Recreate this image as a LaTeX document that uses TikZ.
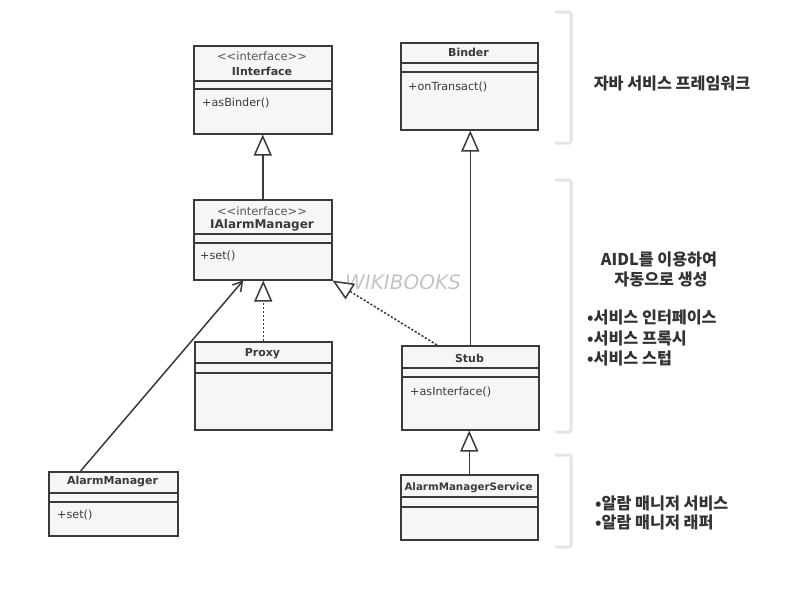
\documentclass[tikz,border=0pt]{standalone}
\usepackage{fontspec}
\setmainfont{DejaVu Sans}
\newfontfamily\kr{Noto Sans CJK KR}
\usetikzlibrary{arrows.meta,calc}
\definecolor{uml}{HTML}{3A3A3A}
\definecolor{boxfill}{HTML}{F6F6F6}
\definecolor{brkcol}{HTML}{E4E4E4}
\definecolor{krtext}{HTML}{333333}
\definecolor{wm}{HTML}{C4C4C4}
\tikzset{
  cls/.style={draw=uml, line width=1.5pt, fill=boxfill, inner sep=0pt, anchor=north west},
  ttl/.style={font=\fontsize{11}{13}\selectfont\bfseries, text=uml, inner sep=0pt},
  ster/.style={font=\fontsize{11.5}{13}\selectfont, text=uml!85, inner sep=0pt},
  op/.style={font=\fontsize{11.2}{13}\selectfont, text=uml, anchor=west, inner sep=0pt},
  sep/.style={draw=uml, line width=1.2pt},
  inh/.style={draw=uml, line width=1.5pt, -{Triangle[open,length=21pt,width=18pt,fill=white]}},
  assoc/.style={draw=uml, line width=1.5pt, -{Straight Barb[length=9pt,width=11pt]}},
  dsh/.style={dash pattern=on 2.2pt off 1.8pt},
  brk/.style={draw=brkcol, line width=3pt, rounded corners=1.5pt},
  krt/.style={font=\kr\bfseries\fontsize{16.2}{19}\selectfont, text=krtext, inner sep=0pt},
}
\begin{document}
\begin{tikzpicture}[x=1pt,y=-1pt]
\useasboundingbox (0,0) rectangle (797,589);
\fill[white] (0,0) rectangle (797,589);

% IInterface
\node[cls, minimum width=138pt, minimum height=88pt] (iinterface) at (193,45) {};
\draw[sep] (193,81) -- (333,81);
\draw[sep] (193,89) -- (333,89);
\node[ster] (iinterfaceS) at (262,56) {\symbol{60}\symbol{60}interface\symbol{62}\symbol{62}};
\node[ttl] (iinterfaceT) at (262,71) {IInterface};
\node[op] (iinterfaceO) at (202,103) {+asBinder()};

% Binder
\node[cls, minimum width=137pt, minimum height=87pt] (binder) at (400,42) {};
\draw[sep] (400,63) -- (539,63);
\draw[sep] (400,72) -- (539,72);
\node[ttl] (binderT) at (468.5,52) {Binder};
\node[op] (binderO) at (408,87) {+onTransact()};

% IAlarmManager
\node[cls, minimum width=138pt, minimum height=80pt] (ialarm) at (193,199) {};
\draw[sep] (193,234) -- (333,234);
\draw[sep] (193,243) -- (333,243);
\node[ster] (ialarmS) at (262,211) {\symbol{60}\symbol{60}interface\symbol{62}\symbol{62}};
\node[ttl, font=\fontsize{12}{14}\selectfont\bfseries] (ialarmT) at (262,225) {IAlarmManager};
\node[op] (ialarmO) at (200,256) {+set()};

% Proxy
\node[cls, minimum width=137pt, minimum height=88pt] (proxy) at (194,341) {};
\draw[sep] (194,363) -- (333,363);
\draw[sep] (194,373) -- (333,373);
\node[ttl] (proxyT) at (262.5,354) {Proxy};

% Stub
\node[cls, minimum width=137pt, minimum height=84pt] (stub) at (401,345) {};
\draw[sep] (401,368) -- (540,368);
\draw[sep] (401,377) -- (540,377);
\node[ttl] (stubT) at (469.5,358) {Stub};
\node[op] (stubO) at (410,392) {+asInterface()};

% AlarmManager
\node[cls, minimum width=129pt, minimum height=64pt] (am) at (48,471) {};
\draw[sep] (48,493) -- (179,493);
\draw[sep] (48,502) -- (179,502);
\node[ttl] (amT) at (112.5,482) {AlarmManager};
\node[op] (amO) at (57,515) {+set()};

% AlarmManagerService
\node[cls, minimum width=137pt, minimum height=65pt] (ams) at (400,474) {};
\draw[sep] (400,497) -- (539,497);
\draw[sep] (400,507) -- (539,507);
\node[ttl, font=\fontsize{10.3}{12}\selectfont\bfseries] (amsT) at (468.5,488) {AlarmManagerService};

% watermark
\node[font=\fontsize{20}{22}\selectfont\itshape, text=wm, inner sep=0pt] (wmark) at (403,282) {WIKIBOOKS};

% connectors
\draw[inh] (ialarm.north) -- (iinterface.south);
\draw[inh] (stub.north) -- (stub.north |- binder.south);
\draw[inh, dsh] (proxy.north) -- (proxy.north |- ialarm.south);
\draw[inh, dsh] ($(stub.north west)!0.26!(stub.north east)$) -- (ialarm.south east);
\draw[inh] (ams.north) -- (ams.north |- stub.south);
\draw[assoc] ($(am.north west)!0.25!(am.north east)$) -- ($(ialarm.south west)!0.36!(ialarm.south east)$);

% brackets
\draw[brk] (555,12) -- (571,12) -- (571,143) -- (555,143);
\draw[brk] (555,180) -- (571,180) -- (571,432) -- (555,432);
\draw[brk] (555,455) -- (571,455) -- (571,547) -- (555,547);

% Korean labels
\node[krt] (k1) at (672,83) {자바 서비스 프레임워크};
\node[krt] (k2) at (659,259) {AIDL를 이용하여};
\node[krt] (k3) at (661,279) {자동으로 생성};
\node[krt, anchor=west] (k4) at (587,317) {•서비스 인터페이스};
\node[krt, anchor=west] (k5) at (587,338) {•서비스 프록시};
\node[krt, anchor=west] (k6) at (587,358) {•서비스 스텁};
\node[krt, anchor=west] (k7) at (595,503) {•알람 매니저 서비스};
\node[krt, anchor=west] (k8) at (595,522) {•알람 매니저 래퍼};
\end{tikzpicture}
\end{document}
